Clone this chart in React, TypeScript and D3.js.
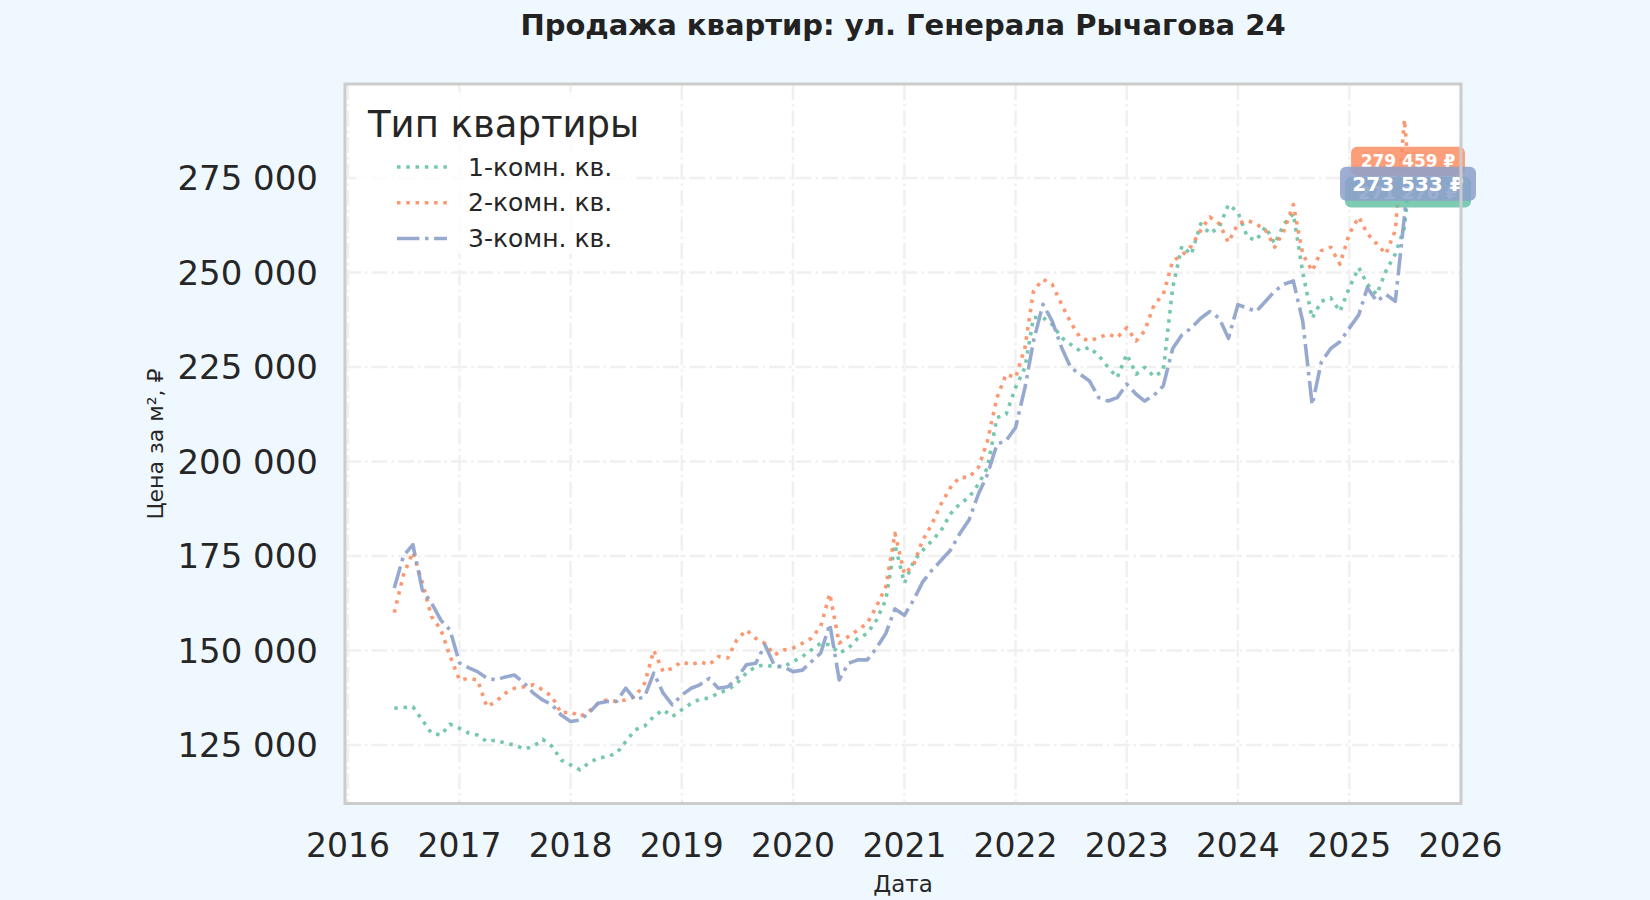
import React from "react";
import * as d3 from "d3";

// monthly observations Jun 2016 .. Jul 2025, plus the last observation
const months = d3.timeMonth.range(new Date(2016, 5, 1), new Date(2025, 7, 1));
const lastDate = new Date(2025, 6, 12);
const dates = [...months, lastDate];

// 1-комн. кв., тыс. ₽ за м²
const oneRoom = [
    134.7, 134.9, 135.1, 131.6, 128.1, 127.6, 130.5,
    129.4, 128.1, 127.6, 125.9, 126.3, 125.4, 125.0, 123.9, 124.6, 126.5, 124.6, 121.0,
    119.7, 118.4, 120.2, 121.5, 121.9, 122.8, 125.9, 129.0, 130.0, 132.5, 134.3, 132.5,
    134.3, 136.0, 137.1, 137.4, 138.7, 139.6, 141.3, 144.0, 145.7, 146.2, 145.7, 145.7,
    147.0, 148.4, 150.1, 151.9, 151.5, 149.3, 150.6, 153.2, 154.5, 158.0, 163.4, 178.0,
    167.8, 173.7, 176.4, 179.0, 181.7, 186.1, 188.7, 190.5, 194.0, 198.4, 211.6, 212.5,
    219.6, 224.9, 238.1, 238.1, 236.3, 232.8, 231.0, 229.3, 230.2, 228.0, 224.9, 222.2,
    228.4, 223.1, 224.9, 222.5, 224.0, 246.0, 257.0, 254.8, 262.9, 260.3, 262.1, 268.0,
    266.0, 259.4, 258.5, 262.1, 257.6, 262.9, 265.6, 250.0, 237.9, 242.4, 243.3, 239.7,
    246.0, 251.3, 246.9, 244.2, 250.4, 254.9, 262.0, 271.276
];

// 2-комн. кв.
const twoRoom = [
    160.0, 170.0, 176.0, 168.0, 159.0, 155.5, 148.5,
    142.2, 142.6, 142.2, 135.1, 136.5, 138.7, 140.0, 140.4, 140.9, 139.6, 137.8, 133.4,
    133.8, 132.5, 133.8, 136.0, 136.9, 136.5, 136.9, 137.8, 141.3, 150.0, 144.4, 145.3,
    147.0, 146.2, 147.0, 146.2, 148.4, 148.0, 152.8, 155.4, 153.2, 151.9, 148.8, 150.1,
    150.6, 151.9, 153.2, 156.3, 165.0, 151.9, 153.7, 155.4, 157.2, 161.6, 166.9, 181.0,
    170.2, 172.8, 179.0, 183.4, 188.7, 193.1, 195.8, 195.8, 198.4, 205.5, 216.9, 223.1,
    222.2, 230.2, 245.2, 248.2, 246.9, 241.6, 236.8, 232.8, 231.9, 232.8, 233.7, 232.8,
    235.4, 231.9, 234.6, 241.5, 244.2, 253.1, 254.5, 257.0, 261.2, 264.7, 262.9, 258.0,
    262.9, 263.8, 262.9, 261.2, 256.7, 261.2, 268.0, 254.9, 250.4, 255.8, 256.7, 252.2,
    260.3, 264.7, 260.3, 257.6, 254.9, 261.2, 290.5, 279.459
];

// 3-комн. кв.
const threeRoom = [
    166.5, 175.0, 178.0, 166.0, 162.6, 158.0, 155.4,
    146.7, 145.4, 144.4, 142.7, 142.2, 143.0, 143.5, 141.4, 138.7, 136.9, 135.6, 132.9,
    131.2, 131.6, 133.4, 136.0, 136.5, 136.5, 140.0, 136.9, 137.8, 144.0, 138.7, 135.6,
    138.2, 140.0, 140.9, 142.6, 140.0, 140.4, 142.6, 146.2, 146.6, 151.5, 146.0, 145.7,
    144.4, 144.8, 147.0, 149.3, 157.0, 142.2, 146.6, 147.5, 147.5, 150.6, 154.5, 161.0,
    159.3, 163.5, 168.0, 171.2, 173.8, 176.5, 180.8, 184.5, 191.4, 196.6, 204.6, 205.5,
    209.0, 219.6, 231.9, 241.6, 237.2, 230.2, 224.9, 223.1, 221.3, 216.9, 216.0, 216.9,
    220.5, 217.8, 216.0, 217.6, 220.0, 229.9, 233.5, 235.3, 237.9, 239.7, 237.9, 232.6,
    241.5, 240.6, 239.7, 242.4, 245.1, 246.9, 247.8, 237.1, 215.0, 226.3, 229.9, 231.7,
    235.3, 238.8, 246.0, 242.4, 244.2, 242.4, 265.0, 273.533
];

const seriesNames = ["1-комн. кв.", "2-комн. кв.", "3-комн. кв."];
const seriesValues = [oneRoom, twoRoom, threeRoom];
const seriesColors = ["#66c2a5", "#fc8d62", "#8da0cb"];
const yTicks = [125000, 150000, 175000, 200000, 225000, 250000, 275000];
const xTickYears = [2016, 2017, 2018, 2019, 2020, 2021, 2022, 2023, 2024, 2025, 2026];

const W = 1650;
const H = 900;
const plot = { left: 345, right: 1461, top: 84, bottom: 803.5 };
const FONT = "DejaVu Sans, sans-serif";
const TEXT = "#262626";

const dotted = (lw: number) => `${lw} ${lw * 1.65}`;
const dashDot = (lw: number) => `${lw * 6.4} ${lw * 1.6} ${lw} ${lw * 1.6}`;
const lineDash = [dotted(3.5), dotted(3.5), dashDot(3.5)];

const ru = d3.formatLocale({ decimal: ",", thousands: " ", grouping: [3], currency: ["", " ₽"] });
const fmtTick = ru.format(",.0f");

export default function App() {
    const x = d3
        .scaleTime()
        .domain([new Date(2016, 0, 1), new Date(2026, 0, 1)])
        .range([348, 1460.5]);
    const y = d3.scaleLinear().domain([109500, 299900]).range([plot.bottom, plot.top]);

    const line = d3
        .line<number>()
        .x((_, i) => x(dates[i]))
        .y((v) => y(v * 1000));

    // end labels: orange first, then green, blue on top
    const labelOrder = [1, 0, 2];
    const labelFont = [18, 17, 20];
    const labelWidth = [7.0, 6.7, 6.8];

    return (
        <svg
            width={W}
            height={H}
            style={{ position: "absolute", left: 0, top: 0, fontFamily: FONT }}
        >
            <rect width={W} height={H} fill="#f0f8ff" />
            <text
                x={903}
                y={35}
                textAnchor="middle"
                fontSize={29}
                fontWeight="bold"
                fill="#222"
            >
                Продажа квартир: ул. Генерала Рычагова 24
            </text>

            <rect
                x={plot.left}
                y={plot.top}
                width={plot.right - plot.left}
                height={plot.bottom - plot.top}
                fill="#fff"
            />

            {/* grid */}
            <g stroke="#f0f0f0" strokeWidth={2.5} strokeDasharray={dashDot(2.5)}>
                {yTicks.map((t) => (
                    <line key={t} x1={plot.left} x2={plot.right} y1={y(t)} y2={y(t)} />
                ))}
                {xTickYears.map((yr) => (
                    <line
                        key={yr}
                        x1={x(new Date(yr, 0, 1))}
                        x2={x(new Date(yr, 0, 1))}
                        y1={plot.top}
                        y2={plot.bottom}
                    />
                ))}
            </g>

            {/* series */}
            <g fill="none" strokeLinejoin="round">
                {seriesValues.map((vals, i) => (
                    <path
                        key={seriesNames[i]}
                        d={line(vals) || ""}
                        stroke={seriesColors[i]}
                        strokeWidth={3.6}
                        strokeDasharray={lineDash[i]}
                        opacity={0.9}
                    />
                ))}
            </g>

            {/* legend */}
            <rect x={356} y={92} width={280} height={162} fill="#fff" opacity={0.8} />
            <text x={368} y={137} fontSize={37} fill={TEXT}>
                Тип квартиры
            </text>
            {seriesNames.map((name, i) => {
                const cy = 167 + i * 35.8;
                return (
                    <g key={name}>
                        <line
                            x1={397}
                            x2={447}
                            y1={cy}
                            y2={cy}
                            stroke={seriesColors[i]}
                            strokeWidth={3.5}
                            strokeDasharray={lineDash[i]}
                            opacity={0.9}
                        />
                        <text x={468} y={cy + 8.5} fontSize={25} fill={TEXT}>
                            {name}
                        </text>
                    </g>
                );
            })}

            {/* end value labels */}
            {labelOrder.map((i) => {
                const vals = seriesValues[i];
                const last = vals[vals.length - 1] * 1000;
                const fs = labelFont[i];
                const cy = y(last);
                const h = fs * 1.7;
                const w = fs * labelWidth[i];
                const cx = 1408;
                return (
                    <g key={i}>
                        <rect
                            x={cx - w / 2}
                            y={cy - h / 2}
                            width={w}
                            height={h}
                            rx={6}
                            fill={seriesColors[i]}
                            opacity={0.85}
                        />
                        <text
                            x={cx}
                            y={cy}
                            dy="0.36em"
                            textAnchor="middle"
                            fontSize={fs}
                            fontWeight="bold"
                            fill="#fff"
                        >
                            {fmtTick(Math.round(last))} ₽
                        </text>
                    </g>
                );
            })}

            {/* frame */}
            <rect
                x={plot.left}
                y={plot.top}
                width={plot.right - plot.left}
                height={plot.bottom - plot.top}
                fill="none"
                stroke="#cccccc"
                strokeWidth={3}
            />

            {/* axes labels */}
            <g fontSize={33} fill={TEXT}>
                {yTicks.map((t) => (
                    <text key={t} x={318} y={y(t)} dy="0.36em" textAnchor="end" fontSize={34}>
                        {fmtTick(t)}
                    </text>
                ))}
                {xTickYears.map((yr) => (
                    <text key={yr} x={x(new Date(yr, 0, 1))} y={857} textAnchor="middle">
                        {yr}
                    </text>
                ))}
            </g>
            <text
                transform="translate(163, 444) rotate(-90)"
                textAnchor="middle"
                fontSize={22}
                fill={TEXT}
            >
                Цена за м², ₽
            </text>
            <text x={903} y={892} textAnchor="middle" fontSize={23} fill={TEXT}>
                Дата
            </text>
        </svg>
    );
}
